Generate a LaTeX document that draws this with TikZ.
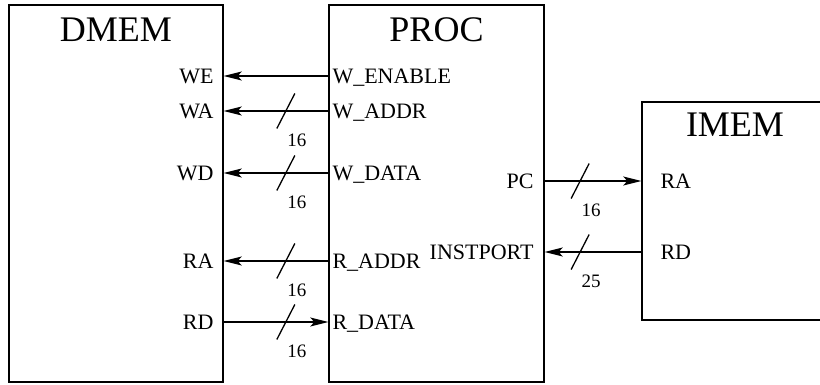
\documentclass[tikz,border=0pt]{standalone}
\usepackage{fontspec}
\setmainfont{Liberation Serif}
\usetikzlibrary{arrows.meta}
\begin{document}
\begin{tikzpicture}[x=1pt,y=-1pt,
  box/.style={draw, line width=1.4pt, inner sep=0pt},
  title/.style={font=\fontsize{36}{36}\selectfont, inner sep=0pt, anchor=base},
  lbl/.style={font=\fontsize{22}{22}\selectfont, inner sep=0pt, text height=15pt, text depth=0pt},
  num/.style={font=\fontsize{19}{19}\selectfont, inner sep=0pt, text height=13pt, text depth=0pt},
  sig/.style={line width=1.3pt, -{Stealth[length=18pt,width=9pt,inset=4pt]}},
  slash/.style={line width=1.3pt}
]
\useasboundingbox (0,0) rectangle (820,385);
\begin{scope}
\clip (0,0) rectangle (820,385);
% boxes
\node[box, minimum width=214pt, minimum height=377pt] (dmem) at (116,193.5) {};
\node[box, minimum width=215pt, minimum height=377pt] (proc) at (436.5,193.5) {};
\node[box, minimum width=186pt, minimum height=218pt] (imem) at (735,211) {};
\end{scope}
% titles
\node[title] (dmemT) at (116,42) {DMEM};
\node[title] (procT) at (436.5,42) {PROC};
\node[title] (imemT) at (735,137) {IMEM};
% port coordinates
\path (dmem.east |- 0,76) coordinate (dWE)  (proc.west |- 0,76) coordinate (pWE);
\path (dmem.east |- 0,111) coordinate (dWA) (proc.west |- 0,111) coordinate (pWA);
\path (dmem.east |- 0,173) coordinate (dWD) (proc.west |- 0,173) coordinate (pWD);
\path (dmem.east |- 0,261) coordinate (dRA) (proc.west |- 0,261) coordinate (pRA);
\path (dmem.east |- 0,322) coordinate (dRD) (proc.west |- 0,322) coordinate (pRD);
\path (proc.east |- 0,181) coordinate (pPC) (imem.west |- 0,181) coordinate (iRA);
\path (proc.east |- 0,252) coordinate (pIP) (imem.west |- 0,252) coordinate (iRD);
% labels DMEM
\node[lbl, anchor=east] (lWE) at ([xshift=-10pt]dWE) {WE};
\node[lbl, anchor=east] (lWA) at ([xshift=-10pt]dWA) {WA};
\node[lbl, anchor=east] (lWD) at ([xshift=-10pt]dWD) {WD};
\node[lbl, anchor=east] (lRA) at ([xshift=-10pt]dRA) {RA};
\node[lbl, anchor=east] (lRD) at ([xshift=-10pt]dRD) {RD};
% labels PROC
\node[lbl, anchor=west] (lWEN) at ([xshift=4pt]pWE) {W\_ENABLE};
\node[lbl, anchor=west] (lWAD) at ([xshift=4pt]pWA) {W\_ADDR};
\node[lbl, anchor=west] (lWDA) at ([xshift=4pt]pWD) {W\_DATA};
\node[lbl, anchor=west] (lRAD) at ([xshift=4pt]pRA) {R\_ADDR};
\node[lbl, anchor=west] (lRDA) at ([xshift=4pt]pRD) {R\_DATA};
\node[lbl, anchor=east] (lPC) at ([xshift=-11pt]pPC) {PC};
\node[lbl, anchor=east] (lIP) at ([xshift=-11pt]pIP) {INSTPORT};
% labels IMEM
\node[lbl, anchor=west] (lIRA) at ([xshift=19pt]iRA) {RA};
\node[lbl, anchor=west] (lIRD) at ([xshift=19pt]iRD) {RD};
% connectors
\draw[sig] (pWE) -- (dWE);
\draw[sig] (pWA) -- coordinate[pos=0.406] (sWA) (dWA);
\draw[sig] (pWD) -- coordinate[pos=0.406] (sWD) (dWD);
\draw[sig] (pRA) -- coordinate[pos=0.406] (sRA) (dRA);
\draw[sig] (dRD) -- coordinate[pos=0.594] (sRD) (pRD);
\draw[sig] (pPC) -- coordinate[pos=0.367] (sPC) (iRA);
\draw[sig] (iRD) -- coordinate[pos=0.633] (sIP) (pIP);
% bus slashes and widths
\foreach \s/\w in {sWA/16, sWD/16, sRA/16, sRD/16, sPC/16, sIP/25} {
  \draw[slash] ([shift={(9,-17.5)}]\s) -- ([shift={(-9,17.5)}]\s);
  \node[num] (n\s) at ([shift={(11,29)}]\s) {\w};
}
\end{tikzpicture}
\end{document}
